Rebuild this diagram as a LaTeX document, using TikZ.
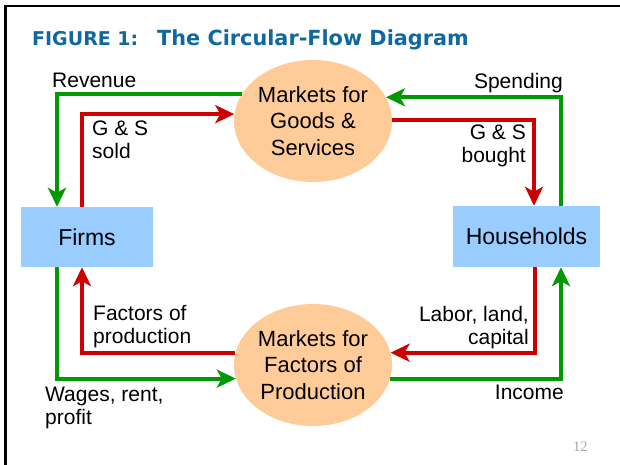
\documentclass[tikz,border=0pt]{standalone}
\usepackage{fontspec}
\setmainfont{Liberation Sans}
\newfontfamily\titlefont{DejaVu Sans}
\newfontfamily\numfont{Liberation Serif}
\usetikzlibrary{arrows.meta,shapes.geometric}
\definecolor{flowgreen}{RGB}{0,153,0}
\definecolor{flowred}{RGB}{204,0,0}
\definecolor{boxblue}{RGB}{153,204,255}
\definecolor{peach}{RGB}{255,204,153}
\definecolor{titleblue}{RGB}{16,104,158}
\definecolor{pagegray}{RGB}{165,165,165}
\tikzset{
  agent/.style={rectangle, fill=boxblue, inner sep=0pt, font=\fontsize{23}{27}\selectfont},
  market/.style={ellipse, fill=peach, minimum width=158pt, minimum height=122pt, inner sep=0pt, align=center, font=\fontsize{22}{26.5}\selectfont},
  lbl/.style={inner sep=0pt, font=\fontsize{21}{23}\selectfont},
  flow/.style={line width=3.8pt, -{Stealth[length=19pt,width=18pt,inset=5pt]}},
  gflow/.style={flow, draw=flowgreen},
  rflow/.style={flow, draw=flowred},
  ttl/.style={inner sep=0pt, text=titleblue, anchor=base west},
}
\begin{document}
\begin{tikzpicture}[x=1pt,y=-1pt]
\useasboundingbox (0,0) rectangle (620,465);
% slide frame
\draw[line width=2.2pt] (5.5,6.2) -- (620,6.2);
\draw[line width=2.2pt] (5.5,5.1) -- (5.5,465);
% title
\node[ttl, font=\titlefont\bfseries\fontsize{19}{23}\selectfont] (t1) at (32,46) {FIGURE 1:};
\node[ttl, font=\titlefont\bfseries\fontsize{20.8}{25}\selectfont] (t2) at (157,46) {The Circular-Flow Diagram};
% nodes
\node[agent, minimum width=132pt, minimum height=60pt] (firms) at (87,237) {Firms};
\node[agent, minimum width=147pt, minimum height=61pt] (households) at (526.5,236.5) {Households};
\node[market] (goods) at (313,121) {Markets for\\Goods \&\\Services};
\node[market] (factors) at (313,365) {Markets for\\Factors of\\Production};
% flows
\draw[gflow] (goods.159) -| ([xshift=-30pt]firms.north);
\draw[rflow] ([xshift=-5pt]firms.north) |- (goods.175);
\draw[gflow] ([xshift=34.5pt]households.north) |- (goods.18);
\draw[rflow] (goods.1.5) -| ([xshift=7.5pt]households.north);
\draw[rflow] (factors.171) -| ([xshift=-5pt]firms.south);
\draw[gflow] ([xshift=-30pt]firms.south) |- (factors.190);
\draw[rflow] ([xshift=8.5pt]households.south) |- (factors.9);
\draw[gflow] (factors.350) -| ([xshift=34.5pt]households.south);
% labels
\node[lbl, anchor=base west] (revenue) at (52,88) {Revenue};
\node[lbl, anchor=base west, align=left] (sold) at (92,159) {G \& S\\sold};
\node[lbl, anchor=base east] (spending) at (563,89) {Spending};
\node[lbl, anchor=base east, align=right] (bought) at (526,162) {G \& S\\bought};
\node[lbl, anchor=base west, align=left] (fop) at (93,343) {Factors of\\production};
\node[lbl, anchor=base west, align=left] (wages) at (45,424) {Wages, rent,\\profit};
\node[lbl, anchor=base east, align=right] (labor) at (529,344) {Labor, land,\\capital};
\node[lbl, anchor=base east] (income) at (564,399) {Income};
\node[inner sep=0pt, anchor=base west, text=pagegray, font=\numfont\fontsize{14.5}{17}\selectfont] (pnum) at (573,451) {12};
\end{tikzpicture}
\end{document}
